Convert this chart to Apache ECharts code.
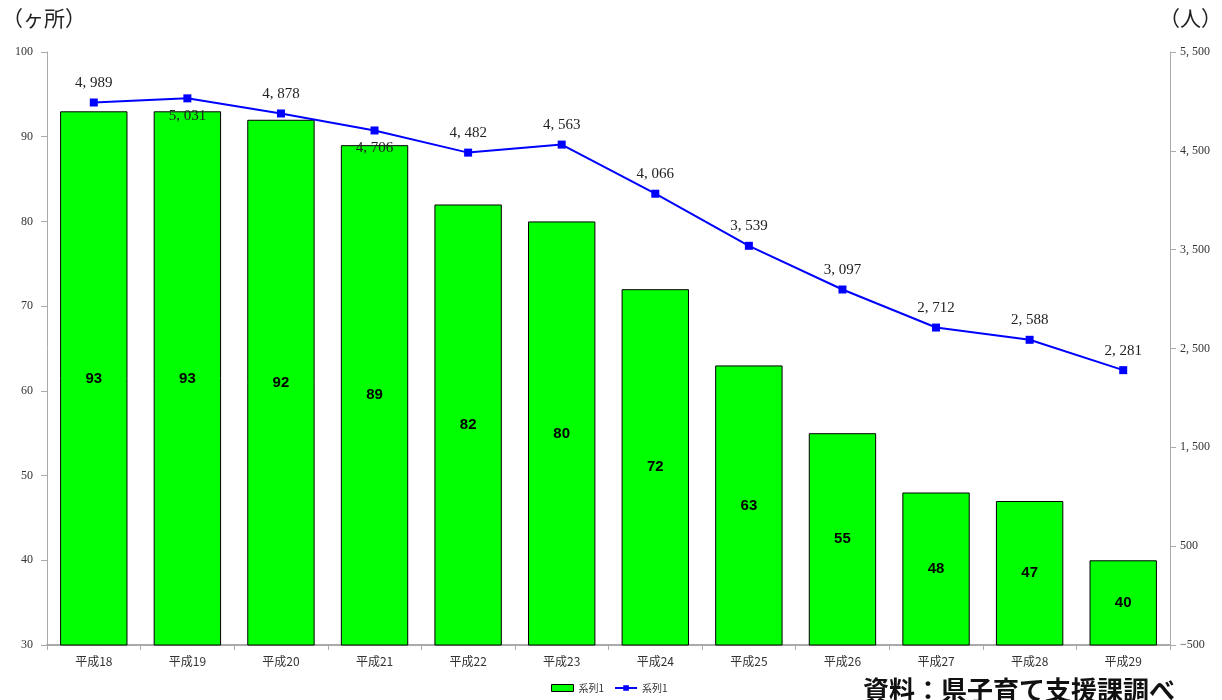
<!DOCTYPE html>
<html><head><meta charset="utf-8">
<script src="https://cdn.jsdelivr.net/npm/echarts@6/dist/echarts.min.js"></script>
<style>html,body{margin:0;padding:0;background:#fff}#c{width:1222px;height:700px}</style>
</head><body><div id="c"></div>
<script>
const categories = ['平成18','平成19','平成20','平成21','平成22','平成23','平成24','平成25','平成26','平成27','平成28','平成29'];
const facilities = [93,93,92,89,82,80,72,63,55,48,47,40];
const people = [4989,5031,4878,4706,4482,4563,4066,3539,3097,2712,2588,2281];
const labelBelow = [false,true,false,true,false,false,false,false,false,false,false,false];
const seriesName = '系列1';
const leftUnit = '（ヶ所）';
const rightUnit = '（人）';
const sourceText = '資料：県子育て支援課調べ';

const serif = '"Liberation Serif","DejaVu Serif","Noto Sans CJK JP",serif';
const fmt = v => { const s = String(Math.abs(v)); const t = s.length > 3 ? s.slice(0, -3) + ', ' + s.slice(-3) : s; return (v < 0 ? '−' : '') + t; };

const chart = echarts.init(document.getElementById('c'));
chart.setOption({
  animation: false,
  backgroundColor: '#fff',
  grid: { left: 47, right: 52, top: 52, bottom: 55 },
  legend: {
    bottom: 2, left: 546, itemGap: 10, itemWidth: 22, itemHeight: 7,
    textStyle: { fontFamily: '"Noto Sans CJK JP"', fontSize: 10, color: '#333' },
    data: [
      { name: seriesName + ' ', icon: 'rect', itemStyle: { color: '#00ff00', borderColor: '#000', borderWidth: 1 } },
      { name: seriesName }
    ],
    formatter: n => n.trim()
  },
  graphic: [
    { type: 'text', left: 2, top: 8, style: { text: leftUnit, font: '21px "Noto Sans CJK JP"', fill: '#222' } },
    { type: 'text', right: 0, top: 8, style: { text: rightUnit, font: '21px "Noto Sans CJK JP"', fill: '#222' } },
    { type: 'text', left: 863, top: 677, style: { text: sourceText, font: 'bold 26px "Noto Sans CJK JP"', fill: '#111' } }
  ],
  xAxis: {
    type: 'category', data: categories,
    axisLine: { onZero: false, lineStyle: { color: '#aaa', width: 2 } },
    axisTick: { show: true, length: 5, lineStyle: { color: '#aaa' } },
    axisLabel: { color: '#333', fontSize: 12, fontFamily: '"Noto Sans CJK JP"', margin: 10 }
  },
  yAxis: [
    { type: 'value', min: 30, max: 100, interval: 10, splitLine: { show: false },
      axisLine: { show: true, lineStyle: { color: '#aaa' } },
      axisTick: { show: true, length: 6, lineStyle: { color: '#aaa' } },
      axisLabel: { color: '#333', fontSize: 12, fontFamily: serif, margin: 14 } },
    { type: 'value', min: -500, max: 5500, interval: 1000, splitLine: { show: false },
      axisLine: { show: true, lineStyle: { color: '#aaa' } },
      axisTick: { show: true, length: 6, lineStyle: { color: '#aaa' } },
      axisLabel: { color: '#333', fontSize: 12, fontFamily: serif, margin: 10, formatter: fmt } }
  ],
  series: [
    { name: seriesName + ' ', type: 'bar', yAxisIndex: 0, data: facilities, barWidth: '72%',
      itemStyle: { color: '#00ff00', borderColor: '#000', borderWidth: 1 },
      label: { show: true, position: 'inside', color: '#000', fontWeight: 'bold', fontSize: 15, fontFamily: '"Liberation Sans Narrow","Liberation Sans",sans-serif' } },
    { name: seriesName, type: 'line', yAxisIndex: 1,
      data: people.map((v, i) => ({ value: v, label: { position: labelBelow[i] ? 'bottom' : 'top', distance: labelBelow[i] ? 6 : 8 } })),
      symbol: 'rect', symbolSize: 8, lineStyle: { color: '#0000ff', width: 2 }, itemStyle: { color: '#0000ff' },
      label: { show: true, color: '#222', fontSize: 15, fontFamily: serif, formatter: p => fmt(p.value) } }
  ]
});
</script></body></html>
